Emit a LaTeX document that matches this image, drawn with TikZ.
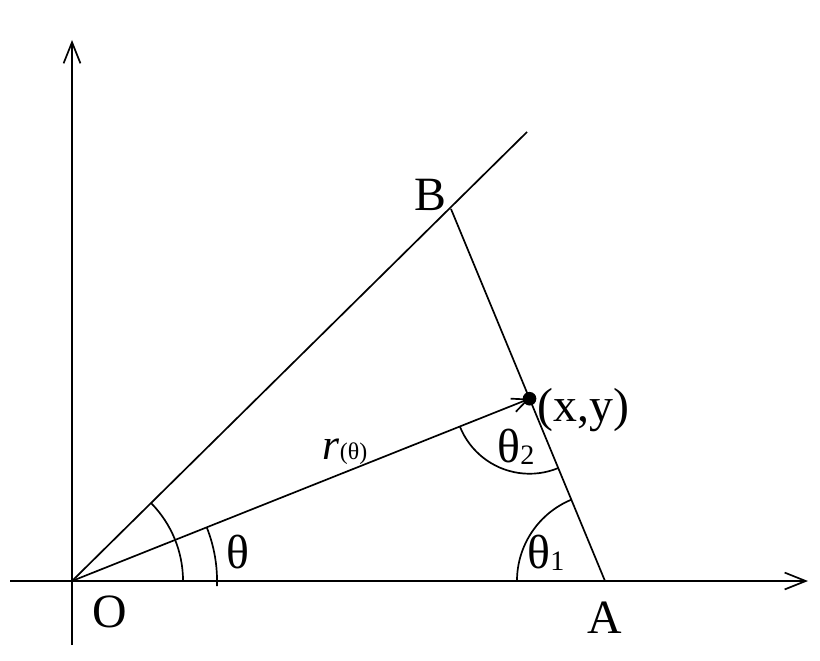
\documentclass[tikz,border=0pt]{standalone}
\usepackage{fontspec}
\setmainfont{Liberation Serif}
\usetikzlibrary{arrows.meta,calc}

\newcommand{\lowsub}[1]{\raisebox{-0.05em}{\fontsize{20}{24}\selectfont #1}}

\begin{document}
\begin{tikzpicture}[x=0.025cm, y=0.025cm, line width=1.2pt,
  axis/.style={-{Straight Barb[length=15pt,width=12pt,line width=1.2pt]}},
  ray/.style={-{Straight Barb[length=11pt,width=10pt,line width=1.2pt]}},
  lbl/.style={font=\fontsize{34}{40}\selectfont, inner sep=0pt}]
\useasboundingbox (0,0) rectangle (820,660);

% points
\coordinate (O) at (72,79);
\coordinate (A) at (605,79);
\coordinate (B) at (451,451);
\coordinate (E) at (527,528);
\coordinate (P) at ($(A)!0.49!(B)$);
\coordinate (xl) at (10,79);
\coordinate (xr) at (808,79);
\coordinate (yb) at (72,15);
\coordinate (yt) at (72,620);

% axes
\draw[axis](xl)--(xr);
\draw[axis](yb)--(yt);

% lines
\draw(O)--(E);
\draw(A)--(B);
\draw[ray](O)--(P);
\fill(P) circle (0.17cm);

% angles
\draw(O) ++(0:2.775cm) arc (0:44.6:2.775cm);
\draw(O) ++(-2:3.625cm) arc (-2:21.7:3.625cm);
\draw(A) ++(180:2.2cm) arc (180:112.5:2.2cm);
\draw(P) ++(201.7:1.875cm) arc (201.7:292.5:1.875cm);

% labels
\node(lO) at (110,48)[lbl]{O};
\node(lA) at (605,42)[lbl]{A};
\node(lB) at (430,465)[lbl]{B};
\node(lP) at (537,250)[lbl, anchor=west]{(x,y)};
\node(lt) at (238,108)[lbl]{θ};
\node(lt1) at (546,107)[lbl]{θ\lowsub{1}};
\node(lt2) at (516,213)[lbl]{θ\lowsub{2}};
\node(lr) at (345,208)[inner sep=0pt]{\fontsize{31}{36}\selectfont\textit{r}\fontsize{17}{20}\selectfont(θ)};
\end{tikzpicture}
\end{document}
